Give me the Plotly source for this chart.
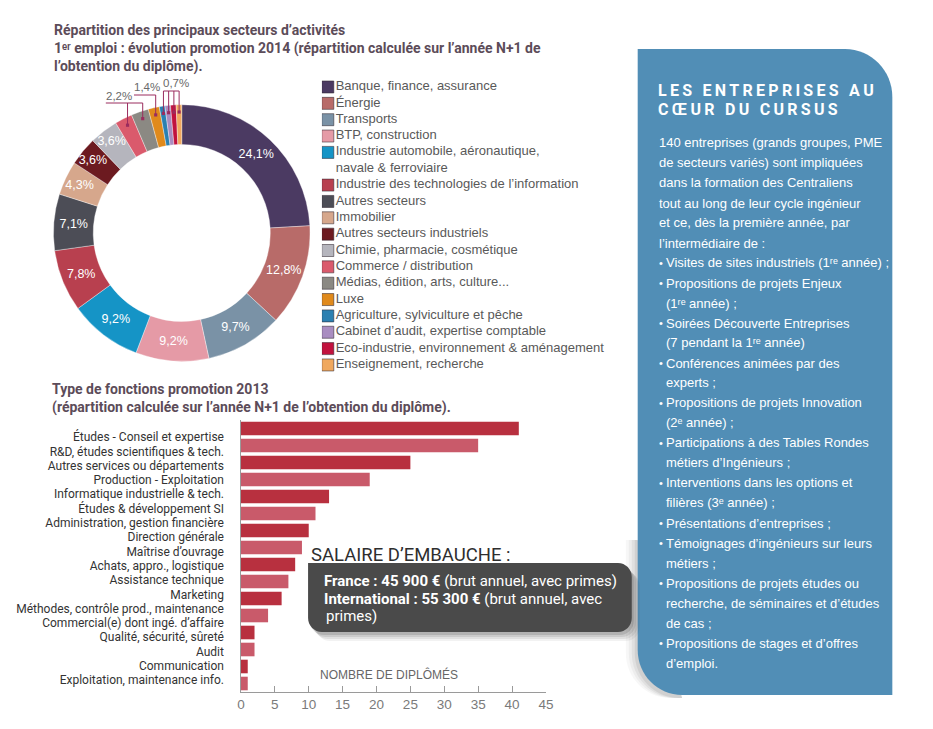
import math
from itertools import groupby
import plotly.graph_objects as go

# page body margin is 8px: the figure is drawn from (8, 8) of the window
OFF = 8
W, H = 933 - 2 * OFF, 729 - 2 * OFF


def X(p):
    return (p - OFF) / W


def Y(p):
    return 1 - (p - OFF) / H


# ---------------- data ----------------
sectors = [
    "Banque, finance, assurance",
    "Énergie",
    "Transports",
    "BTP, construction",
    "Industrie automobile, aéronautique,<br>navale & ferroviaire",
    "Industrie des technologies de l’information",
    "Autres secteurs",
    "Immobilier",
    "Autres secteurs industriels",
    "Chimie, pharmacie, cosmétique",
    "Commerce / distribution",
    "Médias, édition, arts, culture...",
    "Luxe",
    "Agriculture, sylviculture et pêche",
    "Cabinet d’audit, expertise comptable",
    "Eco-industrie, environnement & aménagement",
    "Enseignement, recherche",
]
shares = [24.1, 12.8, 9.7, 9.2, 9.2, 7.8, 7.1, 4.3, 3.6, 3.6, 2.2, 2.2, 1.4, 0.7, 0.7, 0.7, 0.7]
sector_colors = [
    "#4b3a62", "#b86b69", "#7a92a6", "#e59aa6", "#1594c6", "#b8404f", "#4c4d56",
    "#d6a78c", "#6c1a20", "#b5b5bd", "#da5a6c", "#8b8983", "#e08a1c", "#2b80b1",
    "#a98dc1", "#c1123e", "#f0a85e",
]

function_labels = [
    "Études - Conseil et expertise",
    "R&D, études scientifiques & tech.",
    "Autres services ou départements",
    "Production - Exploitation",
    "Informatique industrielle & tech.",
    "Études & développement SI",
    "Administration, gestion financière",
    "Direction générale",
    "Maîtrise d’ouvrage",
    "Achats, appro., logistique",
    "Assistance technique",
    "Marketing",
    "Méthodes, contrôle prod., maintenance",
    "Commercial(e) dont ingé. d’affaire",
    "Qualité, sécurité, sûreté",
    "Audit",
    "Communication",
    "Exploitation, maintenance info.",
]
graduates = [41, 35, 25, 19, 13, 11, 10, 9, 8, 7, 6, 4, 2, 2, 1, 1]
x_ticks = [0, 5, 10, 15, 20, 25, 30, 35, 40, 45]

# ---------------- styles ----------------
F_TITLE = "Roboto, 'Liberation Sans', sans-serif"
F_DIN = "Roboto, 'Liberation Sans', sans-serif"
F_HELV = "'Liberation Sans', Arial, sans-serif"
TITLE_COL = "#5c4c59"
LEADER_COL = "#9a2c5e"
BLUE = "#518eb6"

fig = go.Figure()

# ---------------- donut ----------------
CX, CY, R = 180, 233, 130
slice_text = [(f"{v:.1f}".replace(".", ",") + "%") for v in shares]
slice_pos = ["inside" if v >= 3 else "none" for v in shares]
fig.add_trace(go.Pie(
    values=shares, labels=sectors, text=slice_text, textinfo="text",
    textposition=slice_pos, insidetextorientation="horizontal",
    sort=False, direction="clockwise", rotation=0, hole=0.69,
    marker=dict(colors=sector_colors, line=dict(color="rgba(255,255,255,0.6)", width=0.6)),
    textfont=dict(family=F_HELV, size=12.5, color="white"),
    domain=dict(x=[X(CX - R), X(CX + R)], y=[Y(CY + R), Y(CY - R)]),
    showlegend=False, hoverinfo="label+percent",
))

shapes = []
annotations = []

# leader lines for the small slices
total = sum(shares)
mids, cum = [], 0.0
for v in shares:
    mids.append((cum + v / 2) / total * 2 * math.pi)
    cum += v
R_DOT = 121
small = [i for i, v in enumerate(shares) if v < 3]
groups = [list(g) for _, g in groupby(small, key=lambda i: shares[i])]
group_style = [dict(level=103, dx=-22), dict(level=95, dx=-22), dict(level=91, dx=0)]
for g, st in zip(groups, group_style):
    pts = [(CX + R_DOT * math.sin(mids[i]), CY - R_DOT * math.cos(mids[i])) for i in g]
    xs = [p[0] for p in pts]
    lvl = st["level"]
    left = min(xs) + st["dx"]
    shapes.append(dict(type="line", xref="paper", yref="paper", x0=X(left), x1=X(max(xs)),
                       y0=Y(lvl), y1=Y(lvl), line=dict(color=LEADER_COL, width=1)))
    for (px, py) in pts:
        shapes.append(dict(type="line", xref="paper", yref="paper", x0=X(px), x1=X(px),
                           y0=Y(py), y1=Y(lvl), line=dict(color=LEADER_COL, width=1)))
        shapes.append(dict(type="rect", xref="paper", yref="paper", x0=X(px - 1.6), x1=X(px + 1.6),
                           y0=Y(py - 1.6), y1=Y(py + 1.6), fillcolor=LEADER_COL, line=dict(width=0)))
    lab = f"{shares[g[0]]:.1f}".replace(".", ",") + "%"
    annotations.append(dict(text=lab, xref="paper", yref="paper", x=X(left - 1), y=Y(lvl - 0.5),
                            xanchor="left", yanchor="bottom", showarrow=False, borderpad=0,
                            font=dict(family=F_HELV, size=11.5, color="#6a6a6a")))

# ---------------- legend (scatter on own axes) ----------------
rows, r = [], 0
for s in sectors:
    rows.append(r)
    r += s.count("<br>") + 1
n_rows = r
PITCH = 16.35
LEG_TOP = 87 - PITCH / 2
fig.add_trace(go.Scatter(
    x=[6] * len(sectors), y=rows, mode="markers", xaxis="x3", yaxis="y3",
    marker=dict(symbol="square", size=12, color=sector_colors,
                line=dict(color="rgba(50,40,50,0.55)", width=1)),
    showlegend=False, hoverinfo="skip",
))
fig.add_trace(go.Scatter(
    x=[14] * len(sectors), y=[rw + s.count("<br>") / 2 for rw, s in zip(rows, sectors)],
    mode="text", text=sectors, textposition="middle right", xaxis="x3", yaxis="y3",
    textfont=dict(family=F_HELV, size=13, color="#595959"),
    showlegend=False, hoverinfo="skip",
))

# ---------------- bar chart ----------------
bar_colors = ["#b8303f" if i % 2 == 0 else "#c95a6a" for i in range(len(graduates))]
fig.add_trace(go.Bar(
    x=graduates, y=list(range(len(graduates))), orientation="h",
    marker=dict(color=bar_colors, line=dict(width=0)), width=0.8,
    xaxis="x", yaxis="y", showlegend=False,
))
fig.add_trace(go.Scatter(
    x=[0] * len(function_labels), y=list(range(len(function_labels))), mode="markers",
    marker=dict(opacity=0), xaxis="x", yaxis="y2", showlegend=False, hoverinfo="skip",
))

AX_L, AX_R, AX_T, AX_B = 240, 549, 420, 692
BAR_PITCH = 17
LAB_PITCH = 14.3
LAB_FIRST = 437
lab_top = -(LAB_FIRST - AX_T) / LAB_PITCH
lab_bot = lab_top + (AX_B - AX_T) / LAB_PITCH

# ---------------- boxes ----------------
k = 0.5523
bx0, bx1, by0, by1, r_tr, r_bl = 642, 900, 49, 695, 48, 45


def blue_path():
    a0, a1, b0, b1 = bx0, bx1, by0, by1
    pts = [
        ("M", [(a0, b0)]),
        ("L", [(a1 - r_tr, b0)]),
        ("C", [(a1 - r_tr + k * r_tr, b0), (a1, b0 + r_tr - k * r_tr), (a1, b0 + r_tr)]),
        ("L", [(a1, b1)]),
        ("L", [(a0 + r_bl, b1)]),
        ("C", [(a0 + r_bl - k * r_bl, b1), (a0, b1 - r_bl + k * r_bl), (a0, b1 - r_bl)]),
    ]
    s = ""
    for cmd, pp in pts:
        s += cmd + " " + " ".join(f"{X(x):.5f},{Y(y):.5f}" for x, y in pp) + " "
    return s + "Z"


def shadow_path(dx):
    a0 = bx0 + dx
    top = 540
    b1 = by1 + 3
    s = f"M {X(a0):.5f},{Y(top):.5f} L {X(a0):.5f},{Y(b1 - r_bl):.5f} "
    s += (f"C {X(a0):.5f},{Y(b1 - r_bl + k * r_bl):.5f} {X(a0 + r_bl - k * r_bl):.5f},{Y(b1):.5f} "
          f"{X(a0 + r_bl):.5f},{Y(b1):.5f} ")
    s += f"L {X(bx0 + r_bl):.5f},{Y(b1):.5f} L {X(bx0):.5f},{Y(top):.5f} Z"
    return s


for d, op in [(-12, 0.04), (-9, 0.05), (-6, 0.07), (-3, 0.09)]:
    shapes.append(dict(type="path", xref="paper", yref="paper", path=shadow_path(d),
                       fillcolor=f"rgba(60,60,60,{op})", line=dict(width=0), layer="below"))
shapes.append(dict(type="path", xref="paper", yref="paper", path=blue_path(),
                   fillcolor=BLUE, line=dict(width=0), layer="below"))

# salary box
sx0, sx1, sy0, sy1, sr = 308, 636, 563, 632, 14


def salary_path(dx=0, dy=0):
    a0, a1, b0, b1 = sx0 + dx, sx1 + dx, sy0 + dy, sy1 + dy
    s = f"M {X(a0):.5f},{Y(b0):.5f} L {X(a1 - sr):.5f},{Y(b0):.5f} "
    s += f"C {X(a1 - sr + k * sr):.5f},{Y(b0):.5f} {X(a1):.5f},{Y(b0 + sr - k * sr):.5f} {X(a1):.5f},{Y(b0 + sr):.5f} "
    s += f"L {X(a1):.5f},{Y(b1 - sr):.5f} "
    s += f"C {X(a1):.5f},{Y(b1 - sr + k * sr):.5f} {X(a1 - sr + k * sr):.5f},{Y(b1):.5f} {X(a1 - sr):.5f},{Y(b1):.5f} "
    s += f"L {X(a0 + sr):.5f},{Y(b1):.5f} "
    s += f"C {X(a0 + sr - k * sr):.5f},{Y(b1):.5f} {X(a0):.5f},{Y(b1 - sr + k * sr):.5f} {X(a0):.5f},{Y(b1 - sr):.5f} Z"
    return s


for d, op in [(8, 0.05), (6, 0.07), (4, 0.09), (2, 0.12)]:
    shapes.append(dict(type="path", xref="paper", yref="paper", path=salary_path(d, d + 1),
                       fillcolor=f"rgba(0,0,0,{op})", line=dict(width=0), layer="above"))
shapes.append(dict(type="path", xref="paper", yref="paper", path=salary_path(),
                   fillcolor="#4a4a4a", line=dict(width=0), layer="above"))

# ---------------- texts ----------------


def txt(text, x, y, size, color, family, xanchor="left", weight=None, pad=1):
    f = dict(family=family, size=size, color=color)
    if weight:
        f["weight"] = weight
    annotations.append(dict(text=text, xref="paper", yref="paper", x=X(x), y=Y(y),
                            xanchor=xanchor, yanchor="middle", align="left", borderpad=pad,
                            showarrow=False, font=f))


title1 = [
    "Répartition des principaux secteurs d’activités",
    "1ᵉʳ emploi : évolution promotion 2014 (répartition calculée sur l’année N+1 de",
    "l’obtention du diplôme).",
]
txt("<br>".join(title1), 50, 48, 14, TITLE_COL, F_TITLE, weight="bold", pad=0)

title2 = [
    "Type de fonctions promotion 2013",
    "(répartition calculée sur l’année N+1 de l’obtention du diplôme).",
]
txt("<br>".join(title2), 47, 398, 14, TITLE_COL, F_TITLE, weight="bold")

txt("NOMBRE DE DIPLÔMÉS", 390, 674, 12, "#666666", F_HELV, xanchor="center")
txt("SALAIRE D’EMBAUCHE :", 309, 555, 18.5, "#2e2e2e", F_DIN)
txt("<b>France : 45 900 €</b> (brut annuel, avec primes)", 322, 581, 15, "white", F_DIN)
txt("<b>International : 55 300 €</b> (brut annuel, avec", 322, 598.5, 15, "white", F_DIN)
txt("primes)", 324, 616, 15, "white", F_DIN)

# side panel text
spaced = "\u2009".join
txt(spaced("LES ENTREPRISES AU"), 661, 90, 16, "white", F_TITLE, weight="bold")
txt(spaced("CŒUR DU CURSUS"), 661, 110, 16, "white", F_TITLE, weight="bold")

panel_lines = [
    ("", "140 entreprises (grands groupes, PME"),
    ("", "de secteurs variés) sont impliquées"),
    ("", "dans la formation des Centraliens"),
    ("", "tout au long de leur cycle ingénieur"),
    ("", "et ce, dès la première année, par"),
    ("", "l’intermédiaire de :"),
    ("•", "Visites de sites industriels (1ʳᵉ année) ;"),
    ("•", "Propositions de projets Enjeux"),
    (" ", "(1ʳᵉ année) ;"),
    ("•", "Soirées Découverte Entreprises"),
    (" ", "(7 pendant la 1ʳᵉ année)"),
    ("•", "Conférences animées par des"),
    (" ", "experts ;"),
    ("•", "Propositions de projets Innovation"),
    (" ", "(2ᵉ année) ;"),
    ("•", "Participations à des Tables Rondes"),
    (" ", "métiers d’Ingénieurs ;"),
    ("•", "Interventions dans les options et"),
    (" ", "filières (3ᵉ année) ;"),
    ("•", "Présentations d’entreprises ;"),
    ("•", "Témoignages d’ingénieurs sur leurs"),
    (" ", "métiers ;"),
    ("•", "Propositions de projets études ou"),
    (" ", "recherche, de séminaires et d’études"),
    (" ", "de cas ;"),
    ("•", "Propositions de stages et d’offres"),
    (" ", "d’emploi."),
]
for i, (b, t) in enumerate(panel_lines):
    y = 143 + i * 20
    if b == "•":
        txt("•", 662, y, 11, "white", F_HELV)
        txt(t, 669, y, 13, "white", F_HELV)
    elif b == " ":
        txt(t, 669, y, 13, "white", F_HELV)
    else:
        txt(t, 662, y, 13, "white", F_HELV)

# ---------------- layout ----------------
fig.update_layout(
    width=W, height=H, autosize=False,
    margin=dict(l=0, r=0, t=0, b=0, pad=0),
    paper_bgcolor="white", plot_bgcolor="rgba(0,0,0,0)",
    uniformtext=dict(minsize=12.5, mode="show"),
    bargap=0.2,
    xaxis=dict(domain=[X(AX_L), X(AX_R)], range=[0, 45], tickvals=x_ticks, ticks="inside",
               ticklen=6, tickcolor="#9a9a9a", showline=True, linecolor="#9a9a9a", linewidth=1,
               showgrid=False, zeroline=False, anchor="y",
               tickfont=dict(family=F_HELV, size=13.5, color="#7a7a7a")),
    yaxis=dict(domain=[Y(AX_B), Y(AX_T)], range=[(AX_B - AX_T) / BAR_PITCH - 0.5, -0.5],
               showticklabels=False, ticks="", showline=True, linecolor="#9a9a9a", linewidth=1,
               showgrid=False, zeroline=False, anchor="x"),
    yaxis2=dict(overlaying="y", anchor="x", side="left", range=[lab_bot, lab_top],
                tickvals=list(range(len(function_labels))), ticktext=function_labels,
                ticks="", showline=False, showgrid=False, zeroline=False,
                ticklabelstandoff=16,
                tickfont=dict(family=F_DIN, size=12, color="#333333")),
    xaxis3=dict(domain=[X(322), X(640)], range=[0, 318], visible=False, anchor="y3"),
    yaxis3=dict(domain=[Y(LEG_TOP + n_rows * PITCH), Y(LEG_TOP)], range=[n_rows - 0.5, -0.5],
                visible=False, anchor="x3"),
    shapes=shapes,
    annotations=annotations,
)

fig.write_html("out.html")
